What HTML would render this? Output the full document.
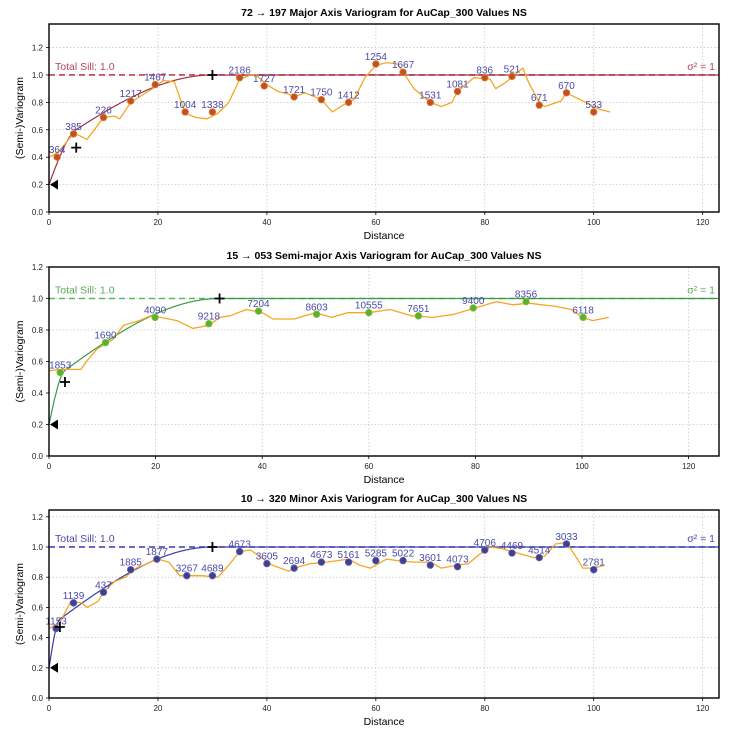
<!DOCTYPE html>
<html><head><meta charset="utf-8"><style>
body{margin:0;background:#fff;}
svg{display:block;font-family:"Liberation Sans",sans-serif;}
</style></head><body>
<svg id="chart" width="732" height="730" viewBox="0 0 732 730" xmlns="http://www.w3.org/2000/svg"></svg>
<script>
// ---- Panel 1: major axis ----
const p1LagX = [1.5,4.5,10,15,19.5,25,30,35,39.5,45,50,55,60,65,70,75,80,85,90,95,100];
const p1LagY = [0.40,0.57,0.69,0.81,0.93,0.73,0.73,0.98,0.92,0.84,0.82,0.80,1.08,1.02,0.80,0.88,0.98,0.99,0.78,0.87,0.73];
const p1Pairs = ["364","385","226","1217","1467","1004","1338","2186","1727","1721","1750","1412","1254","1667","1531","1081","836","521","671","670","533"];
const p1SmX = [0,1,2,4,5,7,10,12,13,15,17,19,21,23,25,27,29,31,33,35,37,38,40,42,44,45,47,50,52,54,56,58,60,62,64,65,67,70,72,74,75,78,81,82,84,86,87,88,90,91,94,95,97,99,101,103];
const p1SmY = [0.40,0.42,0.45,0.55,0.57,0.53,0.69,0.70,0.68,0.80,0.85,0.90,0.96,0.95,0.72,0.69,0.68,0.72,0.80,0.97,1.00,1.00,0.93,0.88,0.86,0.84,0.87,0.82,0.73,0.78,0.82,0.98,1.07,1.09,1.08,1.02,0.90,0.80,0.77,0.80,0.88,0.98,0.97,0.90,0.95,1.02,1.05,0.95,0.80,0.77,0.81,0.87,0.83,0.79,0.75,0.73];
// ---- Panel 2: semi-major axis ----
const p2LagX = [2.1,10.6,19.9,30,39.3,50.2,60,69.3,79.6,89.5,100.2];
const p2LagY = [0.53,0.72,0.88,0.84,0.92,0.90,0.91,0.89,0.94,0.98,0.88];
const p2Pairs = ["1853","1690","4090","9218","7204","8603","10555","7651","9400","8356","6118"];
const p2SmX = [0,2,6,7,9,12,14,17,19,21,24,27,30,32,34,37,40,42,46,48,50,53,56,60,64,68,72,76,80,84,87,90,95,98,100,102,105];
const p2SmY = [0.54,0.55,0.55,0.60,0.68,0.74,0.83,0.86,0.89,0.88,0.86,0.81,0.83,0.88,0.89,0.93,0.91,0.87,0.87,0.89,0.91,0.88,0.91,0.91,0.93,0.89,0.88,0.90,0.94,0.98,0.96,0.97,0.95,0.93,0.88,0.86,0.88];
// ---- Panel 3: minor axis ----
const p3LagX = [1.3,4.5,10,15,19.8,25.3,30,35,40,45,50,55,60,65,70,75,80,85,90,95,100];
const p3LagY = [0.46,0.63,0.70,0.85,0.92,0.81,0.81,0.97,0.89,0.86,0.90,0.90,0.91,0.91,0.88,0.87,0.98,0.96,0.93,1.02,0.85];
const p3Pairs = ["1153","1139","437","1885","1877","3267","4689","4673","3605","2694","4673","5161","5285","5022","3601","4073","4706","4469","4514","3033","2781"];
const p3SmX = [0,2,4,6,7,9,10,12,14,16,18,20,22,24,26,28,31,33,35,37,39,41,44,46,48,51,53,55,57,59,62,64,67,70,72,75,77,79,81,83,86,89,91,93,95,97,98,100,102];
const p3SmY = [0.46,0.50,0.64,0.63,0.60,0.64,0.70,0.77,0.80,0.86,0.89,0.92,0.90,0.81,0.81,0.81,0.80,0.88,0.97,0.98,0.93,0.88,0.84,0.87,0.89,0.90,0.91,0.92,0.88,0.86,0.92,0.91,0.90,0.90,0.86,0.88,0.89,0.95,1.00,0.99,0.96,0.93,0.94,1.02,1.03,0.92,0.86,0.86,0.88];
const xTicks = [0,20,40,60,80,100,120];
const yTicks = [0.0,0.2,0.4,0.6,0.8,1.0,1.2];

const panels = [
 {id:'major', title:'72 \u2192 197 Major Axis Variogram for AuCap_300 Values NS', L:49,R:719,T:24,B:212,xmax:123,ymax:1.372,
  lx:p1LagX,ly:p1LagY,lab:p1Pairs,sx:p1SmX,sy:p1SmY, nug:0.2,c1:0.27,a1:5,a2:30, model:'#a0304a', sill:'#c0404a', pt:'#c0502a', ptEdge:'#e08020', txt:'#b04858'},
 {id:'semi-major', title:'15 \u2192 053 Semi-major Axis Variogram for AuCap_300 Values NS', L:49,R:719,T:267,B:456,xmax:125.7,ymax:1.2,
  lx:p2LagX,ly:p2LagY,lab:p2Pairs,sx:p2SmX,sy:p2SmY, nug:0.2,c1:0.27,a1:3,a2:32, model:'#3a9a4a', sill:'#5cb85c', pt:'#5cb030', ptEdge:'#8ac040', txt:'#5aaa5a'},
 {id:'minor', title:'10 \u2192 320 Minor Axis Variogram for AuCap_300 Values NS', L:49,R:719,T:510,B:698,xmax:123,ymax:1.245,
  lx:p3LagX,ly:p3LagY,lab:p3Pairs,sx:p3SmX,sy:p3SmY, nug:0.2,c1:0.27,a1:2,a2:30, model:'#3a3aaa', sill:'#3a3ab0', pt:'#404090', ptEdge:'#6060b0', txt:'#4a4aaa'}
];
const NS='http://www.w3.org/2000/svg';
const svg=document.getElementById('chart');
function mk(tag,attrs,parent){const e=document.createElementNS(NS,tag);for(const k in attrs)e.setAttribute(k,attrs[k]);(parent||svg).appendChild(e);return e;}
function sph(h,a){return h>=a?1:1.5*h/a-0.5*Math.pow(h/a,3);}

panels.forEach(p=>{
  const sx=v=>p.L+(p.R-p.L)*v/p.xmax;
  const sy=v=>p.B-(p.B-p.T)*v/p.ymax;
  const g=mk('g',{});
  
  
  // grid
  xTicks.forEach(t=>{
    const l=mk('line',{x1:sx(t),x2:sx(t),y1:p.T,y2:p.B,stroke:'#c8c8c8','stroke-width':0.8,'stroke-dasharray':'1.5,2'},g);
    
    
    mk('line',{x1:sx(t),x2:sx(t),y1:p.B,y2:p.B+3,stroke:'#000','stroke-width':0.8},g);
    const tx=mk('text',{x:sx(t),y:p.B+13,'font-size':8,'text-anchor':'middle',fill:'#222'},g);
    tx.textContent=t;
    
    
  });
  yTicks.forEach(t=>{
    if(t>p.ymax+0.001)return;
    const l=mk('line',{x1:p.L,x2:p.R,y1:sy(t),y2:sy(t),stroke:'#c8c8c8','stroke-width':0.8,'stroke-dasharray':'1.5,2'},g);
    
    
    mk('line',{x1:p.L-3,x2:p.L,y1:sy(t),y2:sy(t),stroke:'#000','stroke-width':0.8},g);
    const tx=mk('text',{x:p.L-6,y:sy(t)+3,'font-size':8,'text-anchor':'end',fill:'#222'},g);
    tx.textContent=t.toFixed(1);
    
    
  });
  // sill
  const sl=mk('line',{x1:p.L,x2:p.R,y1:sy(1),y2:sy(1),stroke:p.sill,'stroke-width':1.6,'stroke-dasharray':'6,4'},g);
  
  
  const st=mk('text',{x:p.L+6,y:sy(1)-5,'font-size':10.5,fill:p.txt},g);
  st.textContent='Total Sill: 1.0';
  
  
  const sg=mk('text',{x:p.R-4,y:sy(1)-5,'font-size':10.5,fill:p.txt,'text-anchor':'end'},g);
  sg.textContent='\u03c3\u00b2 = 1';
  
  
  // model curve
  let d='';
  for(let h=0;h<=p.xmax;h+=0.25){
    const v=p.nug+p.c1*sph(h,p.a1)+(1-p.nug-p.c1)*sph(h,p.a2);
    d+=(h===0?'M':'L')+sx(h).toFixed(1)+','+sy(v).toFixed(1);
  }
  const mc=mk('path',{d:d,fill:'none',stroke:p.model,'stroke-width':1.2},g);
  
  
  // smoothed experimental line
  let d2='';
  p.sx.forEach((x,i)=>{d2+=(i?'L':'M')+sx(x).toFixed(1)+','+sy(p.sy[i]).toFixed(1);});
  const sm=mk('path',{d:d2,fill:'none',stroke:'#f5a623','stroke-width':1.3,'stroke-linejoin':'round'},g);
  
  
  // points and labels
  p.lx.forEach((x,i)=>{
    const c=mk('circle',{cx:sx(x),cy:sy(p.ly[i]),r:3.3,fill:p.pt,stroke:p.ptEdge,'stroke-width':0.8},g);
    
    
    const t=mk('text',{x:sx(x),y:sy(p.ly[i])-4,'font-size':10,'text-anchor':'middle',fill:'#4a4aaa'},g);
    t.textContent=p.lab[i];
    
    
  });
  // nugget triangle
  const nx=sx(0)+1, ny=sy(p.nug);
  const tri=mk('polygon',{points:`${nx},${ny} ${nx+8},${ny-5} ${nx+8},${ny+5}`,fill:'#000'},g);
  
  
  // range plus markers
  [[p.a1,p.nug+p.c1],[p.a2,1]].forEach(([x,y])=>{
    const px=sx(x),py=sy(y);
    const pl=mk('path',{d:`M${px-5},${py}H${px+5}M${px},${py-5}V${py+5}`,stroke:'#000','stroke-width':1.8},g);
    
    
  });
  // frame
  const fr=mk('rect',{x:p.L,y:p.T,width:p.R-p.L,height:p.B-p.T,fill:'none',stroke:'#000','stroke-width':1.4},g);
  
  
  // titles
  const ti=mk('text',{x:(p.L+p.R)/2,y:p.T-8,'font-size':10.5,'font-weight':'bold','text-anchor':'middle',fill:'#000'},g);
  ti.textContent=p.title;
  
  
  const xl=mk('text',{x:(p.L+p.R)/2,y:p.B+27,'font-size':10.5,'text-anchor':'middle',fill:'#000'},g);
  xl.textContent='Distance';
  
  
  const yc=(p.T+p.B)/2;
  const yl=mk('text',{x:23,y:yc,'font-size':10.5,'text-anchor':'middle',fill:'#000',transform:`rotate(-90 23 ${yc})`},g);
  yl.textContent='(Semi-)Variogram';
  
  
});
</script>
</body></html>
